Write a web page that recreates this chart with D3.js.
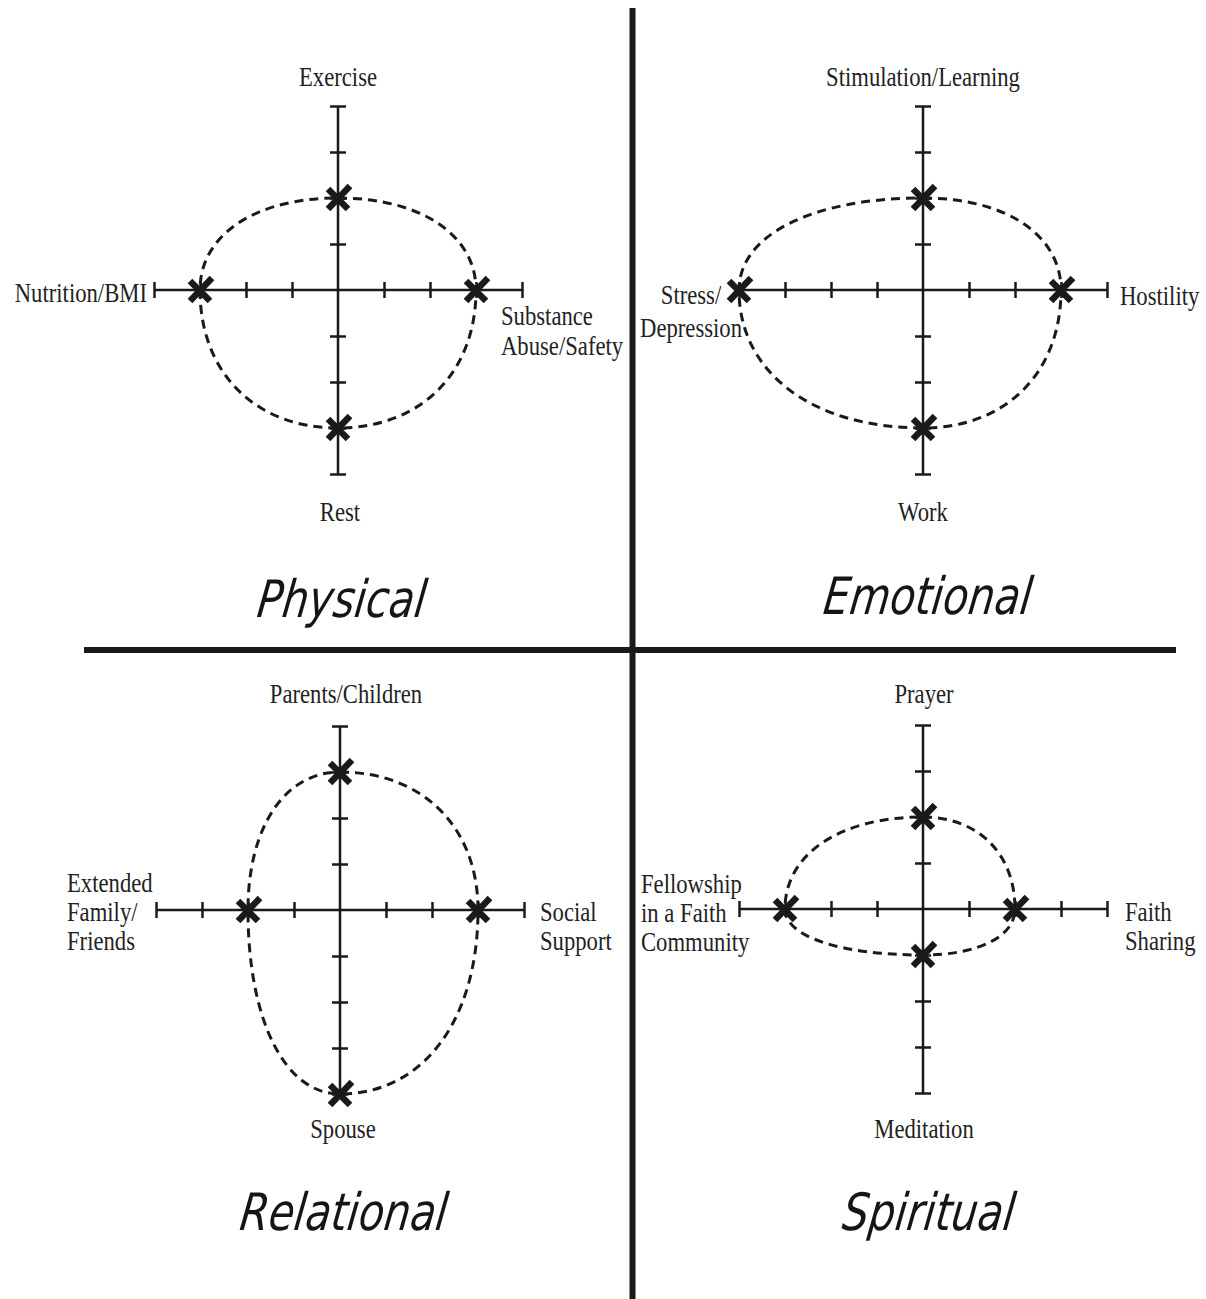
<!DOCTYPE html>
<html lang="en">

<head>
    <meta http-equiv="Content-Type" content="text/html; charset=UTF-8">
    <title> Wellness quadrants </title>
    <script src="https://d3js.org/d3.v7.min.js"></script>
    <style>
        body {
            margin: 0;
            background: #fff;
        }

        #chart-div {
            width: 1206px;
            height: 1299px;
        }

        .lbl {
            font-family: "Liberation Serif", "DejaVu Serif", serif;
            font-size: 27px;
            fill: #222;
        }

        .title {
            font-family: "DejaVu Sans Condensed", "DejaVu Sans", sans-serif;
            font-stretch: condensed;
            font-style: italic;
            font-size: 46px;
            fill: #151515;
        }
    </style>
</head>

<body>
    <div id="chart-div"></div>
    <script type="text/javascript">
        // the four quadrants and their axis labels (top, right, bottom, left)
        const quadrants = ["Physical", "Emotional", "Relational", "Spiritual"];
        const topLabels = [["Exercise"], ["Stimulation/Learning"], ["Parents/Children"], ["Prayer"]];
        const rightLabels = [["Substance", "Abuse/Safety"], ["Hostility"], ["Social", "Support"], ["Faith", "Sharing"]];
        const bottomLabels = [["Rest"], ["Work"], ["Spouse"], ["Meditation"]];
        const leftLabels = [["Nutrition/BMI"], ["Stress/", "Depression"], ["Extended", "Family/", "Friends"], ["Fellowship", "in a Faith", "Community"]];

        // marked scores on each axis, scale runs -4..4
        const topScores = [2, 2, 3, 2];
        const rightScores = [3, 3, 3, 2];
        const bottomScores = [-3, -3, -4, -1];
        const leftScores = [-3, -4, -2, -3];
        const tickValues = [-4, -3, -2, -1, 1, 2, 3, 4];

        chartWidth = 1206
        chartHeight = 1299
        halfLen = 184
        ink = "#1a1a1a"

        // layout: quadrant centres and label offsets from the centre
        const centers = [[338, 290], [923, 290], [340, 910], [923, 909]];
        const titleY = [617, 614, 1230, 1230];
        const titleX = [340, 926, 342, 927];
        const labelLayout = [
            {top: [0, -204], bottom: [2, 231], left: [-191, 12, "end"], right: [163, 35, "start"], lh: 30},
            {top: [0, -204], bottom: [0, 231], left: [-232, 14, "middle"], right: [197, 15, "start"], lh: 33},
            {top: [6, -207], bottom: [3, 228], left: [-273, -18, "start"], right: [200, 11, "start"], lh: 29},
            {top: [1, -206], bottom: [1, 229], left: [-282, -16, "start"], right: [202, 12, "start"], lh: 29},
        ];

        const svg = d3.select("#chart-div")
            .append("svg")
            .attr("width", chartWidth)
            .attr("height", chartHeight)
            .attr("viewBox", [0, 0, chartWidth, chartHeight]);

        // dividers
        svg.append("line")
            .attr("x1", 632.5).attr("x2", 632.5)
            .attr("y1", 8).attr("y2", chartHeight)
            .attr("stroke", ink).attr("stroke-width", 6);
        svg.append("line")
            .attr("x1", 84).attr("x2", 1176)
            .attr("y1", 650).attr("y2", 650)
            .attr("stroke", ink).attr("stroke-width", 6);

        function addLabel(g, lines, x, y, anchor, lh) {
            const t = g.append("text")
                .attr("class", "lbl")
                .attr("text-anchor", anchor)
                .attr("transform", `translate(${x},${y}) scale(0.84,1)`);
            t.selectAll("tspan")
                .data(lines)
                .join("tspan")
                .attr("x", 0)
                .attr("y", (d, i) => i * lh)
                .text(d => d);
        }

        // closed oval made of four quarter-ellipse arcs through the marks
        function oval(c, pts) {
            const k = 0.6;
            const p = d3.path();
            p.moveTo(pts[0][0], pts[0][1]);
            for (let i = 0; i < 4; i++) {
                const a = pts[i], b = pts[(i + 1) % 4];
                // one end lies on the vertical axis, the other on the horizontal
                if (i % 2 === 0) {
                    p.bezierCurveTo(c[0] + k * (b[0] - c[0]), a[1], b[0], c[1] + k * (a[1] - c[1]), b[0], b[1]);
                } else {
                    p.bezierCurveTo(a[0], c[1] + k * (b[1] - c[1]), c[0] + k * (a[0] - c[0]), b[1], b[0], b[1]);
                }
            }
            p.closePath();
            return p.toString();
        }

        quadrants.forEach(function (name, q) {
            const [cx, cy] = centers[q];
            const x = d3.scaleLinear().domain([-4, 4]).range([cx - halfLen, cx + halfLen]);
            const y = d3.scaleLinear().domain([-4, 4]).range([cy + halfLen, cy - halfLen]);
            const g = svg.append("g");

            // axis lines
            g.append("line")
                .attr("x1", x(-4)).attr("x2", x(4))
                .attr("y1", y(0)).attr("y2", y(0))
                .attr("stroke", ink).attr("stroke-width", 2.5);
            g.append("line")
                .attr("x1", x(0)).attr("x2", x(0))
                .attr("y1", y(-4)).attr("y2", y(4))
                .attr("stroke", ink).attr("stroke-width", 2.5);

            // ticks centred on the lines
            g.append("g")
                .attr("transform", `translate(0,${y(0) - 8})`)
                .call(d3.axisBottom(x).tickValues(tickValues).tickSize(16).tickFormat(""))
                .call(a => a.select(".domain").remove())
                .call(a => a.selectAll("line").attr("stroke", ink).attr("stroke-width", 2.5));
            g.append("g")
                .attr("transform", `translate(${x(0) - 8},0)`)
                .call(d3.axisRight(y).tickValues(tickValues).tickSize(16).tickFormat(""))
                .call(a => a.select(".domain").remove())
                .call(a => a.selectAll("line").attr("stroke", ink).attr("stroke-width", 2.5));

            const pts = [
                [x(0), y(topScores[q])],
                [x(rightScores[q]), y(0)],
                [x(0), y(bottomScores[q])],
                [x(leftScores[q]), y(0)],
            ];

            g.append("path")
                .attr("d", oval([x(0), y(0)], pts))
                .attr("fill", "none")
                .attr("stroke", ink)
                .attr("stroke-width", 3)
                .attr("stroke-dasharray", "9 6");

            // bold X marks
            const marks = g.selectAll(".mark")
                .data(pts)
                .join("g")
                .attr("class", "mark")
                .attr("transform", d => `translate(${d[0]},${d[1]})`);
            marks.append("path")
                .attr("d", "M-10,11L12,-12M-10,-9L10,11")
                .attr("stroke", ink)
                .attr("stroke-width", 6.5)
                .attr("fill", "none");

            const L = labelLayout[q];
            addLabel(g, topLabels[q], cx + L.top[0], cy + L.top[1], "middle", L.lh);
            addLabel(g, bottomLabels[q], cx + L.bottom[0], cy + L.bottom[1], "middle", L.lh);
            addLabel(g, leftLabels[q], cx + L.left[0], cy + L.left[1], L.left[2], L.lh);
            addLabel(g, rightLabels[q], cx + L.right[0], cy + L.right[1], L.right[2], L.lh);

            g.append("text")
                .attr("class", "title")
                .attr("text-anchor", "middle")
                .attr("transform", `translate(${titleX[q]},${titleY[q]}) scale(1,1.12) skewX(-8)`)
                .text(name);
        });
    </script>
</body>

</html>
